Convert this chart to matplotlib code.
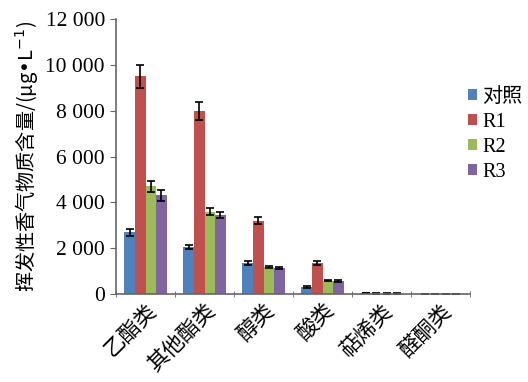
import numpy as np
from matplotlib import pyplot as plt

categories = ['乙酯类', '其他酯类', '醇类', '酸类', '萜烯类', '醛酮类']
series = ['对照', 'R1', 'R2', 'R3']
ck = [2700, 2050, 1360, 320, 30, 5]
r1 = [9500, 8000, 3200, 1360, 20, 5]
r2 = [4700, 3600, 1180, 580, 20, 5]
r3 = [4300, 3450, 1130, 560, 20, 5]
ck_err = [150, 100, 80, 40, 5, 2]
r1_err = [500, 400, 150, 80, 5, 2]
r2_err = [250, 150, 60, 30, 5, 2]
r3_err = [220, 150, 60, 30, 5, 2]
colors = ['#4F81BD', '#C0504D', '#9BBB59', '#8064A2']

plt.rcParams['font.family'] = ['Liberation Serif', 'Noto Sans CJK SC']
plt.rcParams['axes.unicode_minus'] = False

fig = plt.figure(figsize=(5.28, 3.82), dpi=100)
ax = fig.add_axes([0.2197, 0.2304, 0.6705, 0.7196])

x = np.arange(len(categories))
w = 0.18
vals = [ck, r1, r2, r3]
errs = [ck_err, r1_err, r2_err, r3_err]
for i in range(4):
    ax.bar(x + (i - 1.5) * w, vals[i], w, color=colors[i], label=series[i],
           yerr=errs[i], capsize=3, error_kw={'elinewidth': 1.2, 'capthick': 1.2, 'ecolor': 'black'})

ax.set_xlim(-0.5, len(categories) - 0.5)
ax.set_ylim(0, 12000)
ax.set_yticks(range(0, 12001, 2000))
ax.set_yticklabels(['0', '2 000', '4 000', '6 000', '8 000', '10 000', '12 000'], fontsize=15.5)
ax.set_xticks(x)
ax.set_xticklabels(categories, rotation=45, ha='right', rotation_mode='anchor', fontsize=15.5,
                   family=['Noto Sans CJK SC'])
ax.tick_params(axis='x', length=0, pad=4)
ax.set_xticks(np.arange(len(categories) + 1) - 0.5, minor=True)
ax.tick_params(axis='x', which='minor', length=4, direction='inout', color='#666666')
ax.tick_params(axis='y', length=4, color='#666666', pad=4)
for s in ['top', 'right']:
    ax.spines[s].set_visible(False)
for s in ['left', 'bottom']:
    ax.spines[s].set_color('#666666')
    ax.spines[s].set_linewidth(1.2)

ax.set_ylabel('挥发性香气物质含量/(μg•L$^{-1}$)', fontsize=14.5, family=['Noto Sans CJK SC', 'DejaVu Sans'],
              labelpad=4)

ax.legend(loc='center left', bbox_to_anchor=(0.995, 0.58), frameon=False,
          handlelength=0.45, handleheight=0.45, handletextpad=0.25, labelspacing=0.3, borderpad=0,
          borderaxespad=0, prop={'family': ['Liberation Serif', 'Noto Sans CJK SC'], 'size': 14.5})

fig.savefig('out.png', dpi=100)
